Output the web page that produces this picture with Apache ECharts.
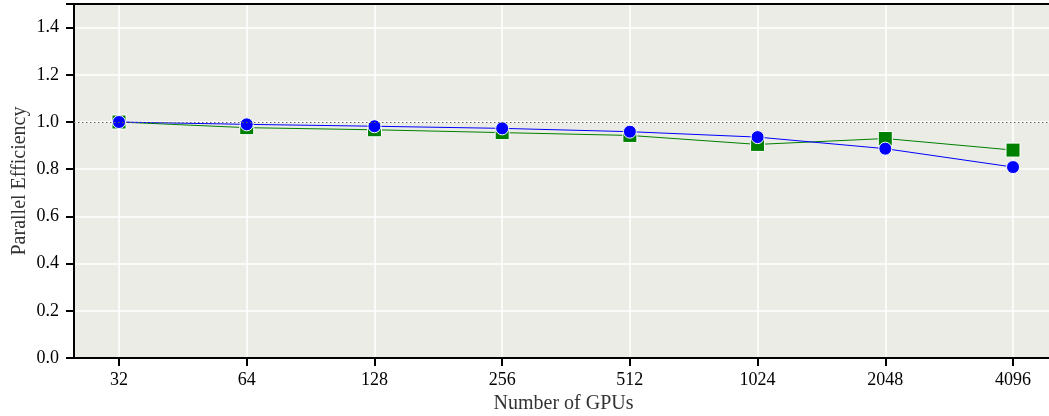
<!DOCTYPE html>
<html>
<head>
<meta charset="utf-8">
<script src="https://cdn.jsdelivr.net/npm/echarts@6/dist/echarts.min.js"></script>
<style>html,body{margin:0;padding:0;background:#fff;}#c{width:1049px;height:416px;}</style>
</head>
<body>
<div id="c"></div>
<script>
const gpus = [32, 64, 128, 256, 512, 1024, 2048, 4096];
const greenVals = [1.000, 0.976, 0.967, 0.955, 0.943, 0.905, 0.930, 0.881];
const blueVals  = [1.000, 0.990, 0.982, 0.973, 0.959, 0.936, 0.887, 0.809];
const yTicks = [0, 0.2, 0.4, 0.6, 0.8, 1.0, 1.2, 1.4];
const xLog = gpus.map(g => Math.log2(g));

const font = "'Liberation Serif', 'DejaVu Serif', serif";
const chart = echarts.init(document.getElementById('c'), null, {renderer: 'canvas'});
const pts = vals => xLog.map((x, i) => [x, vals[i]]);

chart.setOption({
  animation: false,
  backgroundColor: '#ffffff',
  grid: {left: 74, right: -4, top: 4, bottom: 58, outerBoundsMode: 'none', containLabel: false,
    show: true, backgroundColor: '#ECECE6', borderColor: '#000', borderWidth: 0},
  xAxis: [{
    type: 'value', min: 4.6476, max: 12.313,
    name: 'Number of GPUs', nameLocation: 'middle', nameGap: 36, nameMoveOverlap: false,
    nameTextStyle: {fontFamily: font, fontSize: 20, color: '#333'},
    axisLine: {show: true, onZero: false, lineStyle: {color: '#000', width: 2}},
    axisTick: {show: true, length: 8, inside: false, lineStyle: {color: '#000', width: 2}, customValues: xLog},
    axisLabel: {customValues: xLog, fontFamily: font, fontSize: 18, color: '#000', margin: 13,
      formatter: v => String(Math.round(Math.pow(2, v)))},
    splitLine: {show: true, lineStyle: {color: '#ffffff', width: 1.5}}
  }, {
    type: 'value', position: 'top', min: 4.6476, max: 12.313,
    axisLine: {show: true, onZero: false, lineStyle: {color: '#000', width: 2}},
    axisTick: {show: false}, axisLabel: {show: false}, splitLine: {show: false}
  }],
  yAxis: {
    type: 'value', min: 0, max: 1.5, interval: 0.2,
    name: 'Parallel Efficiency', nameLocation: 'middle', nameGap: 44, nameRotate: 90, nameMoveOverlap: false,
    nameTextStyle: {fontFamily: font, fontSize: 20, color: '#333'},
    axisLine: {show: true, lineStyle: {color: '#000', width: 2}},
    axisTick: {show: true, length: 8, lineStyle: {color: '#000', width: 2}},
    axisLabel: {fontFamily: font, fontSize: 18, color: '#000', margin: 15,
      formatter: v => v.toFixed(1),
      customValues: yTicks},
    splitLine: {show: true, lineStyle: {color: '#ffffff', width: 1.5}}
  },
  series: [{
    type: 'line', data: pts(greenVals), symbol: 'rect', symbolSize: 14,
    lineStyle: {color: '#008000', width: 1},
    itemStyle: {color: '#008000', borderColor: '#ffffff', borderWidth: 1},
    z: 3,
    markLine: {
      silent: true, symbol: 'none', label: {show: false},
      lineStyle: {color: '#666', type: [1.5, 2.5], width: 1.2},
      data: [{yAxis: 1.0}]
    }
  }, {
    type: 'line', data: pts(blueVals), symbol: 'circle', symbolSize: 13,
    lineStyle: {color: '#0000ff', width: 1},
    itemStyle: {color: '#0000ff', borderColor: '#ffffff', borderWidth: 1},
    z: 4
  }]
});
</script>
</body>
</html>
